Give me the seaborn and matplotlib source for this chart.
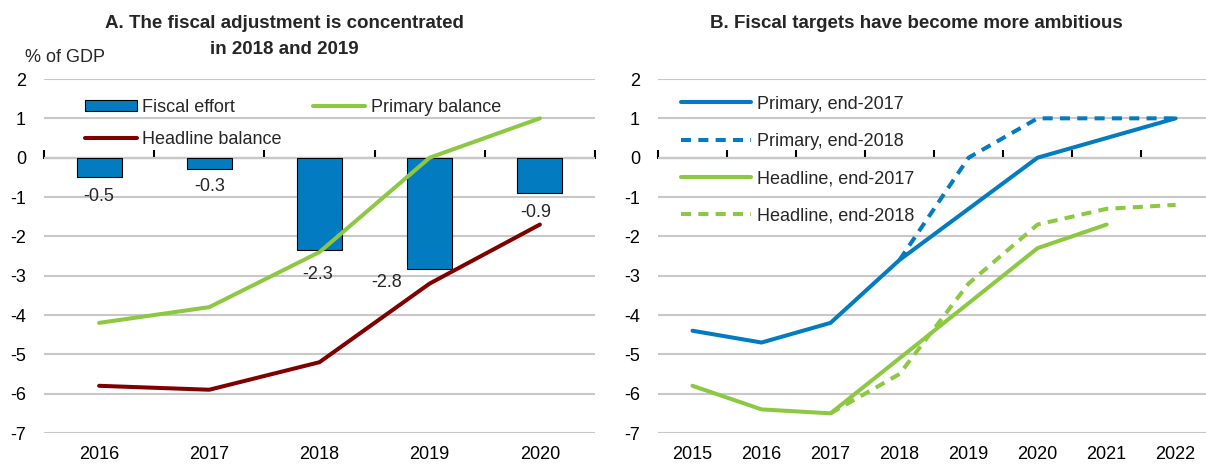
import matplotlib
matplotlib.use("Agg")
import matplotlib.patches as mpatches
import matplotlib.pyplot as plt
import numpy as np
import pandas as pd
import seaborn as sns

sns.set_theme(style="white", context="notebook")
plt.rcParams["font.family"] = ["Liberation Sans", "DejaVu Sans"]
plt.rcParams["axes.unicode_minus"] = False

# Panel A: fiscal adjustment
years_a = ["2016", "2017", "2018", "2019", "2020"]
fiscal_effort = [-0.5, -0.3, -2.34, -2.84, -0.9]
primary_balance = [-4.2, -3.8, -2.4, 0.0, 1.0]
headline_balance = [-5.8, -5.9, -5.2, -3.2, -1.7]

# Panel B: fiscal targets
years_b = ["2015", "2016", "2017", "2018", "2019", "2020", "2021", "2022"]
primary_2017 = [-4.4, -4.7, -4.2, -2.6, -1.3, 0.0, 0.5, 1.0]
primary_2018 = [np.nan, np.nan, np.nan, -2.6, 0.0, 1.0, 1.0, 1.0]
headline_2017 = [-5.8, -6.4, -6.5, -5.1, -3.7, -2.3, -1.7, np.nan]
headline_2018 = [np.nan, np.nan, -6.5, -5.5, -3.2, -1.7, -1.3, -1.2]

BLUE = "#037BC1"
GREEN = "#8CC841"
DARKRED = "#800000"
GRID = "#C8C8C8"
FS = 13

W, H = 1206, 465
fig = plt.figure(figsize=(W / 100, H / 100), dpi=100)


def px_axes(x0, x1, y0, y1):
    return fig.add_axes([x0 / W, 1 - y1 / H, (x1 - x0) / W, (y1 - y0) / H])


def style_axes(ax, labels, xmax):
    pos = np.arange(len(labels))
    ax.set_xlim(-0.5, xmax)
    ax.set_ylim(-7, 2)
    ax.set_yticks(range(-7, 3))
    ax.set_xticks(pos, labels=labels)
    ax.set_xlabel("")
    ax.set_ylabel("")
    for s in ax.spines.values():
        s.set_visible(False)
    ax.yaxis.grid(True, color=GRID, linewidth=1.5)
    ax.xaxis.grid(False)
    ax.set_axisbelow(True)
    ax.tick_params(axis="both", length=0, labelsize=FS, colors="black")
    ax.tick_params(axis="y", pad=13)
    ax.tick_params(axis="x", pad=9)
    # zero line with category separators
    zero = ax.secondary_xaxis(0, transform=ax.transData)
    zero.set_xticks(np.arange(len(labels) + 1) - 0.5)
    zero.tick_params(direction="in", length=6, width=1.5, labelbottom=False, color="black")
    zero.spines["bottom"].set_color("black")
    zero.spines["bottom"].set_linewidth(1.5)
    zero.spines["top"].set_visible(False)


# ---- Panel A ----
ax1 = px_axes(44, 595, 79, 433)
pos_a = np.arange(len(years_a))
sns.barplot(x=pos_a, y=fiscal_effort, native_scale=True, orient="x", width=0.41,
            color=BLUE, saturation=1, edgecolor="black", linewidth=0.8,
            errorbar=None, ax=ax1, zorder=2)
sns.lineplot(x=pos_a, y=primary_balance, color=GREEN, linewidth=2.9, ax=ax1, zorder=3)
sns.lineplot(x=pos_a, y=headline_balance, color=DARKRED, linewidth=2.9, ax=ax1, zorder=3)
style_axes(ax1, years_a, len(years_a) - 0.5)

# bar value labels, nudged (px) to avoid the lines
label_nudge = [(0, 19), (0, 17), (-2, 25), (-43, 13), (-4, 19)]
for x, v, (dx, dy) in zip(pos_a, fiscal_effort, label_nudge):
    ax1.annotate(f"{v:.1f}", (x, v), xytext=(dx * 0.72, -dy * 0.72),
                 textcoords="offset points", ha="center", va="center", fontsize=FS)

handles_a = [
    mpatches.Patch(facecolor=BLUE, edgecolor="black", linewidth=0.8),
    ax1.get_lines()[1],
    ax1.get_lines()[0],
]
ax1.legend(handles_a, ["Fiscal effort", "Headline balance", "Primary balance"],
           ncol=2, frameon=False, fontsize=FS, loc="upper left",
           bbox_to_anchor=(0.074, 0.9435), borderaxespad=0, borderpad=0,
           handlelength=2.88, handleheight=0.55, handletextpad=0.3,
           labelspacing=0.83, columnspacing=1.75)

# ---- Panel B ----
ax2 = px_axes(658, 1206, 79, 433)
df_b = pd.DataFrame({
    "pos": np.arange(len(years_b)),
    "p17": primary_2017, "p18": primary_2018,
    "h17": headline_2017, "h18": headline_2018,
})
dash = (0, (2.5, 1.8))
series_b = [
    ("p17", BLUE, "-", "Primary, end-2017"),
    ("p18", BLUE, dash, "Primary, end-2018"),
    ("h17", GREEN, "-", "Headline, end-2017"),
    ("h18", GREEN, dash, "Headline, end-2018"),
]
for col, c, ls, lab in series_b:
    d = df_b.dropna(subset=[col])
    sns.lineplot(data=d, x="pos", y=col, color=c, linestyle=ls, linewidth=2.9,
                 ax=ax2, zorder=3)
style_axes(ax2, years_b, len(years_b) - 0.56)

ax2.legend(ax2.get_lines(), [s[3] for s in series_b], frameon=False, fontsize=FS,
           loc="upper left", bbox_to_anchor=(0.042, 0.953), borderaxespad=0,
           borderpad=0, handlelength=3.9, handletextpad=0.3, labelspacing=1.12)

# ---- titles ----
fig.text(284 / W, 1 - 24 / H, "A. The fiscal adjustment is concentrated",
         ha="center", va="center", fontsize=13.5, fontweight="bold")
fig.text(284 / W, 1 - 50 / H, "in 2018 and 2019",
         ha="center", va="center", fontsize=13.5, fontweight="bold")
fig.text(916 / W, 1 - 24 / H, "B. Fiscal targets have become more ambitious",
         ha="center", va="center", fontsize=13.5, fontweight="bold")
fig.text(25 / W, 1 - 57 / H, "% of GDP", ha="left", va="center", fontsize=FS)

fig.savefig("out.png", dpi=100)
